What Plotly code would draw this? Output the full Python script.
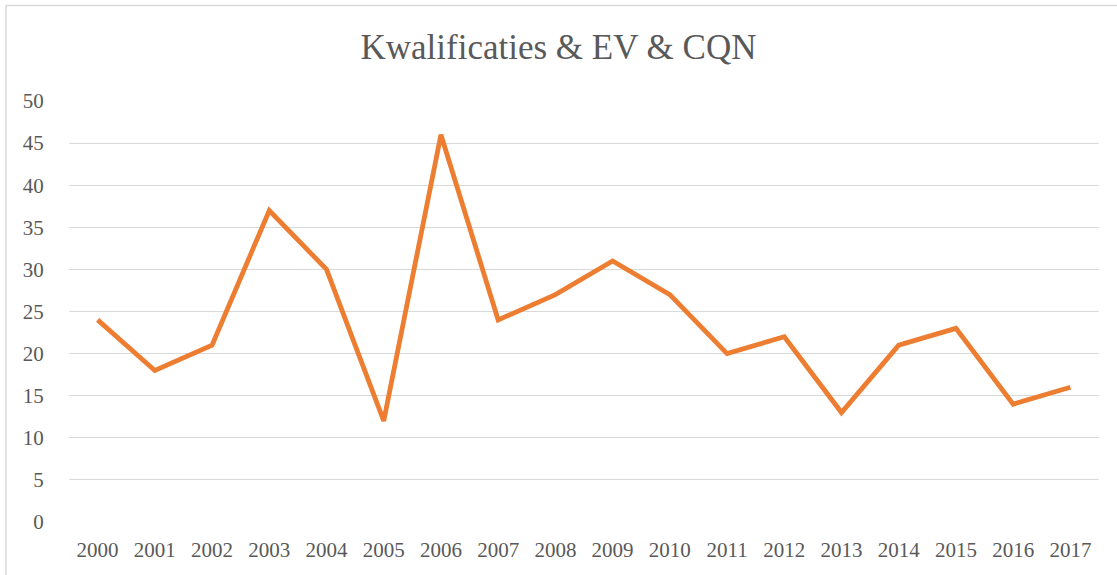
import plotly.graph_objects as go

years = [str(y) for y in range(2000, 2018)]
values = [24, 18, 21, 37, 30, 12, 46, 24, 27, 31, 27, 20, 22, 13, 21, 23, 14, 16]
y_ticks = [0, 5, 10, 15, 20, 25, 30, 35, 40, 45, 50]

W, H = 1117, 575
L, R, T, B = 69, 18, 101, 53
pw, ph = W - L - R, H - T - B

font_family = "Liberation Serif, Times New Roman, serif"

fig = go.Figure()
fig.add_trace(go.Scatter(
    x=years, y=values, mode="lines",
    line=dict(color="#ED7D31", width=4.8),
    hoverinfo="x+y",
))

def px_x(p):
    return (p - L) / pw

def px_y(p):
    return (H - B - p) / ph

fig.update_layout(
    width=W, height=H,
    margin=dict(l=L, r=R, t=T, b=B),
    paper_bgcolor="white", plot_bgcolor="white",
    showlegend=False,
    title=dict(text="Kwalificaties & EV & CQN", x=0.5, xanchor="center",
               y=1 - 47 / H, yanchor="middle",
               font=dict(family=font_family, size=35, color="#595959")),
    font=dict(family=font_family, color="#595959", size=21),
    xaxis=dict(type="category", range=[-0.5, len(years) - 0.5],
               showgrid=False, zeroline=False, showline=False,
               ticks="outside", ticklen=9, tickcolor="rgba(0,0,0,0)",
               tickfont=dict(size=21, color="#595959")),
    yaxis=dict(range=[0, 50], tickvals=y_ticks, showgrid=True, gridcolor="#D9D9D9",
               gridwidth=1.3, zeroline=False, showline=False,
               ticks="outside", ticklen=20, tickcolor="rgba(0,0,0,0)",
               tickfont=dict(size=21, color="#595959")),
    shapes=[dict(type="rect", xref="paper", yref="paper",
                 x0=px_x(6), x1=px_x(1125), y0=px_y(585), y1=px_y(5.5),
                 line=dict(color="#D9D9D9", width=1.5), layer="below")],
)

fig.write_html("out.html", config={"displayModeBar": False},
               post_script="document.body.style.margin='0';document.body.style.overflow='hidden';")
